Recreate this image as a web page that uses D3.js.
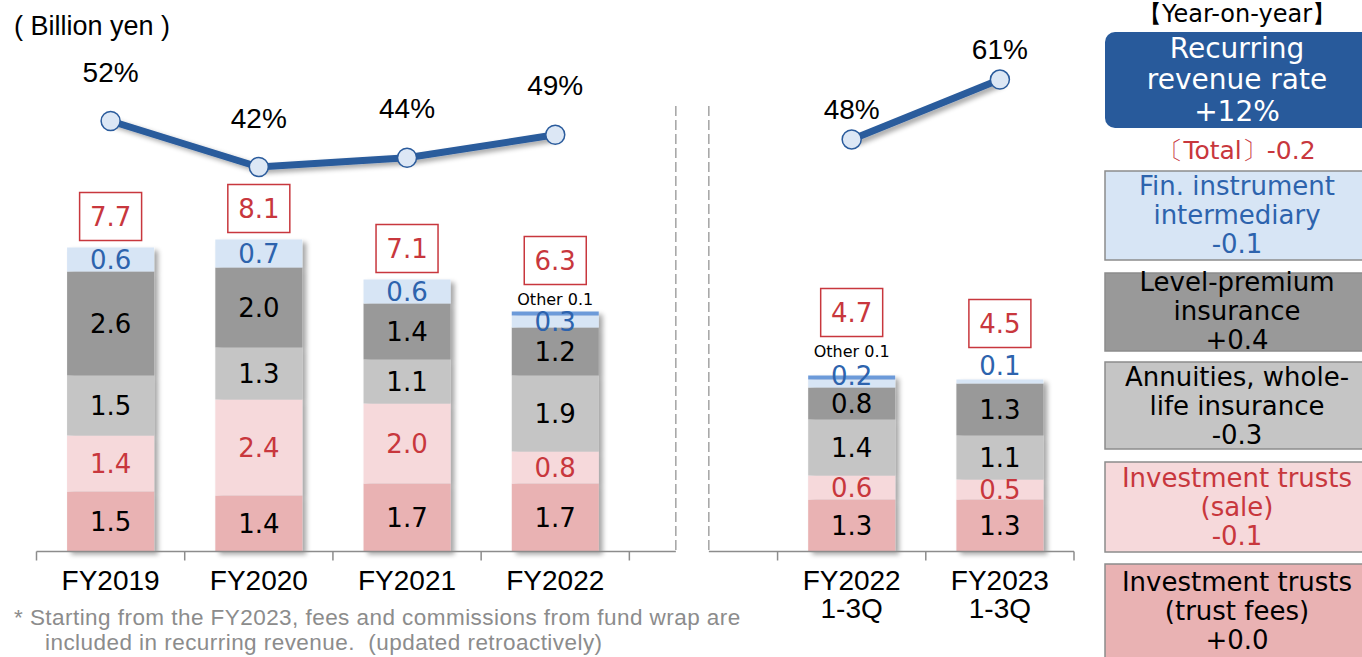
<!DOCTYPE html>
<html>
<head>
<meta charset="utf-8">
<script src="https://cdn.jsdelivr.net/npm/d3@7"></script>
<style>
body{margin:0;background:#fff;}
text{font-family:"DejaVu Sans",Verdana,sans-serif;}
.narrow{font-family:"Liberation Sans",Arial,sans-serif;}
</style>
</head>
<body>
<script>
// chart data (billion yen), "gap" is the empty slot between the two panels
const categories=["FY2019","FY2020","FY2021","FY2022","gap","FY2022 1-3Q","FY2023 1-3Q"];
const categoryLabels=[["FY2019"],["FY2020"],["FY2021"],["FY2022"],[],["FY2022","1-3Q"],["FY2023","1-3Q"]];
const trustFees=[1.5,1.4,1.7,1.7,null,1.3,1.3];
const trustSale=[1.4,2.4,2.0,0.8,null,0.6,0.5];
const annuities=[1.5,1.3,1.1,1.9,null,1.4,1.1];
const levelPremium=[2.6,2.0,1.4,1.2,null,0.8,1.3];
const finIntermediary=[0.6,0.7,0.6,0.3,null,0.2,0.1];
const other=[0,0,0,0.1,null,0.1,0];
const totals=[7.7,8.1,7.1,6.3,null,4.7,4.5];
const recurringRate=[52,42,44,49,null,48,61];

// legend (year-on-year), top to bottom
const legendLines=[["Fin. instrument","intermediary"],["Level-premium","insurance"],["Annuities, whole-","life insurance"],["Investment trusts","(sale)"],["Investment trusts","(trust fees)"]];
const yoyChange=["-0.1","+0.4","-0.3","-0.1","+0.0"];
const recurringChange="+12%";
const totalChange="-0.2";

const w=1362;
const h=657;
const red="#c8373d";
const blue="#2d63ad";

const keys=["trustFees","trustSale","annuities","levelPremium","finIntermediary","other"];
const fills={trustFees:"#e9b2b3",trustSale:"#f6d9db",annuities:"#c5c5c5",levelPremium:"#999999",finIntermediary:"#d7e5f5",other:"#6c9ad9"};
const labelColors={trustFees:"#000",trustSale:red,annuities:"#000",levelPremium:"#000",finIntermediary:blue};

const svg=d3.select("body")
            .append("svg")
            .attr("width",w)
            .attr("height",h);

// soft drop shadow for bars and the line
const filter=svg.append("defs").append("filter")
                .attr("id","shadow")
                .attr("x","-20%").attr("y","-20%")
                .attr("width","150%").attr("height","150%");
filter.append("feGaussianBlur").attr("in","SourceAlpha").attr("stdDeviation",2.5);
filter.append("feOffset").attr("dx",4).attr("dy",3);
filter.append("feComponentTransfer").append("feFuncA").attr("type","linear").attr("slope",0.35);
const merge=filter.append("feMerge");
merge.append("feMergeNode");
merge.append("feMergeNode").attr("in","SourceGraphic");

// scales
const xScale=d3.scaleBand()
               .domain(categories)
               .range([36.5,1074]);
const barW=87;
const cx=c=>xScale(c)+xScale.bandwidth()/2;
const yScale=d3.scaleLinear()
               .domain([0,10])
               .range([551.5,151.5]);
const rateScale=d3.scaleLinear()
                  .domain([0,100])
                  .range([360.2,-99.8]);

// stacked bars
const rows=categories.map((c,i)=>({
    cat:c,
    trustFees:trustFees[i],
    trustSale:trustSale[i],
    annuities:annuities[i],
    levelPremium:levelPremium[i],
    finIntermediary:finIntermediary[i],
    other:other[i],
    total:totals[i]
})).filter(d=>d.trustFees!=null);
const stacked=d3.stack().keys(keys)(rows);

rows.forEach((row,j)=>{
    const x0=cx(row.cat)-barW/2;
    svg.append("g")
       .attr("filter","url(#shadow)")
       .selectAll("rect")
       .data(stacked.map(s=>({key:s.key,seg:s[j]})).filter(d=>d.seg[1]>d.seg[0]))
       .enter()
       .append("rect")
       .attr("x",x0)
       .attr("width",barW)
       .attr("y",d=>yScale(d.seg[1]))
       .attr("height",d=>yScale(d.seg[0])-yScale(d.seg[1]))
       .attr("fill",d=>fills[d.key]);

    // value labels, thin segments get their label lifted above
    let finLabelY=null;
    let finH=0;
    stacked.forEach(s=>{
        if(s.key==="other") return;
        const top=yScale(s[j][1]);
        const bottom=yScale(s[j][0]);
        const hh=bottom-top;
        const ly=(top+bottom)/2-Math.max(0,12-hh)*2;
        if(s.key==="finIntermediary"){ finLabelY=ly; finH=hh; }
        svg.append("text")
           .attr("x",cx(row.cat))
           .attr("y",ly)
           .attr("text-anchor","middle")
           .attr("dominant-baseline","central")
           .attr("font-size",26)
           .attr("fill",labelColors[s.key])
           .text(row[s.key].toFixed(1));
    });
    const barTop=yScale(stacked[keys.length-1][j][1]);
    let boxBottom=Math.min(barTop-7,finLabelY-18);
    if(row.other>0){
        const oy=finH>=12 ? barTop-12 : finLabelY-24;
        svg.append("text")
           .attr("x",cx(row.cat))
           .attr("y",oy)
           .attr("text-anchor","middle")
           .attr("dominant-baseline","central")
           .attr("font-size",16)
           .attr("fill","#000")
           .text("Other "+row.other.toFixed(1));
        boxBottom=Math.min(boxBottom,oy-15);
    }
    // total box
    svg.append("rect")
       .attr("x",cx(row.cat)-31)
       .attr("y",boxBottom-48)
       .attr("width",62)
       .attr("height",48)
       .attr("fill","#fff")
       .attr("stroke",red)
       .attr("stroke-width",1.5);
    svg.append("text")
       .attr("x",cx(row.cat))
       .attr("y",boxBottom-24)
       .attr("text-anchor","middle")
       .attr("dominant-baseline","central")
       .attr("font-size",26)
       .attr("fill",red)
       .text(row.total.toFixed(1));
});

// x axis with a break between the panels
const gapL=xScale("gap")+46.5;
const gapR=xScale("gap")+79.5;
const axisY=yScale(0);
const axisEnd=xScale.range()[1];
svg.append("line").attr("x1",xScale.range()[0]).attr("x2",gapL).attr("y1",axisY).attr("y2",axisY)
   .attr("stroke","#8c8c8c").attr("stroke-width",1.5);
svg.append("line").attr("x1",gapR).attr("x2",axisEnd).attr("y1",axisY).attr("y2",axisY)
   .attr("stroke","#8c8c8c").attr("stroke-width",1.5);
svg.selectAll(".tick")
   .data(categories.map(c=>xScale(c)).concat([axisEnd]))
   .enter()
   .append("line")
   .attr("x1",d=>d).attr("x2",d=>d)
   .attr("y1",axisY).attr("y2",axisY+9)
   .attr("stroke","#8c8c8c").attr("stroke-width",1.5);
[gapL,gapR].forEach(gx=>{
    svg.append("line")
       .attr("x1",gx).attr("x2",gx)
       .attr("y1",106).attr("y2",axisY)
       .attr("stroke","#8c8c8c").attr("stroke-width",1.2)
       .attr("stroke-dasharray","10,4");
});
categories.forEach((c,i)=>{
    const t=svg.append("text")
               .attr("class","narrow")
               .attr("x",cx(c))
               .attr("y",590)
               .attr("text-anchor","middle")
               .attr("font-size",28)
               .attr("fill","#000");
    categoryLabels[i].forEach((l,k)=>{
        t.append("tspan").attr("x",cx(c)).attr("dy",k===0?0:28).text(l);
    });
});

// recurring revenue rate line
const gapIndex=categories.indexOf("gap");
const ratePoints=categories.map((c,i)=>({cat:c,v:recurringRate[i],right:i>gapIndex}));
const line=d3.line()
             .defined(d=>d.v!=null)
             .x(d=>cx(d.cat))
             .y(d=>rateScale(d.v));
svg.append("path")
   .datum(ratePoints)
   .attr("d",line)
   .attr("fill","none")
   .attr("stroke","#2a5b9c")
   .attr("stroke-width",7)
   .attr("filter","url(#shadow)");
const pts=ratePoints.filter(d=>d.v!=null);
svg.selectAll(".pt")
   .data(pts)
   .enter()
   .append("circle")
   .attr("cx",d=>cx(d.cat))
   .attr("cy",d=>rateScale(d.v))
   .attr("r",9.5)
   .attr("fill","#dce7f5")
   .attr("stroke","#2a5b9c")
   .attr("stroke-width",1.5);
svg.selectAll(".pct")
   .data(pts)
   .enter()
   .append("text")
   .attr("class","narrow")
   .attr("x",d=>cx(d.cat))
   .attr("y",d=>rateScale(d.v)-(d.right?30:49))
   .attr("text-anchor","middle")
   .attr("dominant-baseline","central")
   .attr("font-size",28)
   .attr("fill","#000")
   .text(d=>d.v+"%");

// unit and footnote
svg.append("text")
   .attr("class","narrow")
   .attr("x",14)
   .attr("y",26)
   .attr("dominant-baseline","central")
   .attr("font-size",27)
   .attr("xml:space","preserve")
   .text("( Billion yen )");
svg.append("text")
   .attr("class","narrow")
   .attr("x",14)
   .attr("y",617)
   .attr("dominant-baseline","central")
   .attr("font-size",22.5)
   .attr("letter-spacing",0.45)
   .attr("fill","#8c8c8c")
   .text("* Starting from the FY2023, fees and commissions from fund wrap are");
svg.append("text")
   .attr("class","narrow")
   .attr("x",45)
   .attr("y",642)
   .attr("dominant-baseline","central")
   .attr("font-size",22.5)
   .attr("letter-spacing",0.45)
   .attr("fill","#8c8c8c")
   .attr("xml:space","preserve")
   .text("included in recurring revenue.  (updated retroactively)");

// legend
const lx=1105;
const lcx=1237;
svg.append("text")
   .attr("x",lcx)
   .attr("y",14)
   .attr("text-anchor","middle")
   .attr("dominant-baseline","central")
   .attr("font-size",24)
   .attr("font-family","'DejaVu Sans','Noto Sans CJK JP',sans-serif")
   .text("【Year-on-year】");
svg.append("rect")
   .attr("x",lx).attr("y",32)
   .attr("width",280).attr("height",96)
   .attr("rx",10)
   .attr("fill","#285a9b");
["Recurring","revenue rate",recurringChange].forEach((l,k)=>{
    svg.append("text")
       .attr("x",lcx)
       .attr("y",48+k*31.5)
       .attr("text-anchor","middle")
       .attr("dominant-baseline","central")
       .attr("font-size",28)
       .attr("fill","#fff")
       .text(l);
});
svg.append("text")
   .attr("x",lcx)
   .attr("y",150)
   .attr("text-anchor","middle")
   .attr("dominant-baseline","central")
   .attr("font-size",25)
   .attr("font-family","'DejaVu Sans','Noto Sans CJK JP',sans-serif")
   .attr("fill",red)
   .text("〔Total〕"+totalChange);

const legendKeys=["finIntermediary","levelPremium","annuities","trustSale","trustFees"];
const legendTops=[171,273,362,462,564];
const legendHeights=[89,78,87,90,100];
const firstLine=[15,9,15,16,18];
legendKeys.forEach((k,i)=>{
    svg.append("rect")
       .attr("x",lx).attr("y",legendTops[i])
       .attr("width",280).attr("height",legendHeights[i])
       .attr("fill",fills[k])
       .attr("stroke","#8c8c8c")
       .attr("stroke-width",1.5);
    legendLines[i].concat([yoyChange[i]]).forEach((l,n)=>{
        svg.append("text")
           .attr("x",lcx)
           .attr("y",legendTops[i]+firstLine[i]+n*29)
           .attr("text-anchor","middle")
           .attr("dominant-baseline","central")
           .attr("font-size",26)
           .attr("fill",labelColors[k])
           .text(l);
    });
});
</script>
</body>
</html>
